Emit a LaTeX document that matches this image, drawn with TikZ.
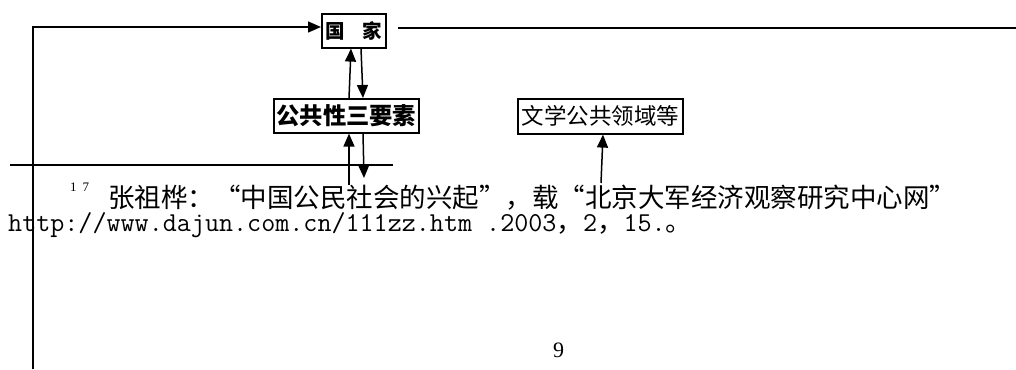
\documentclass[tikz,border=0pt]{standalone}
\usepackage{fontspec}
\usetikzlibrary{arrows.meta}
\newfontfamily\cjk{Noto Sans CJK SC}
\newfontfamily\serf{Liberation Serif}
\newcommand{\cjkp}[1]{\smash{\cjk\fontsize{26.5}{26.5}\selectfont #1}}
\begin{document}
\begin{tikzpicture}[x=1pt,y=-1pt,
  box/.style={draw,line width=1.6pt,inner sep=0pt,anchor=north west},
  conn/.style={line width=1.5pt},
  arr/.style={conn,-{Triangle[length=13pt,width=11pt]}},
  txt/.style={inner sep=0pt,anchor=base west}]
\useasboundingbox (0,0) rectangle (1016,369);
% boxes
\node[box,minimum width=64pt,minimum height=34pt] (gj) at (321,13)
  {\cjk\bfseries\fontsize{19.5}{19.5}\selectfont 国\hspace{0.9em}家};
\node[box,minimum width=145pt,minimum height=34pt] (sg) at (273,98)
  {\cjk\bfseries\fontsize{23.3}{23.3}\selectfont 公共性三要素};
\node[box,minimum width=165pt,minimum height=35pt] (wx) at (517,98)
  {\cjk\fontsize{22.5}{22.5}\selectfont 文学公共领域等};
% coordinates for free ends
\coordinate (lb) at (33,369);
\coordinate (lt) at (33,27);
\coordinate (rs) at (398,28);
\coordinate (re) at (1016,28);
\coordinate (u1) at (349,185);
\coordinate (d1) at (364,178);
\coordinate (w1) at (601,183);
% connectors
\draw[arr] (lb) -- (lt) -- (gj.west |- lt);
\draw[conn] (rs) -- (re);
\draw[arr] (sg.north -| 349,0) -- (gj.south -| 351,0);
\draw[arr] (gj.south -| 361,0) -- (sg.north -| 363,0);
\draw[arr] (u1) -- (sg.south -| 349,0);
\draw[arr] (sg.south -| 363,0) -- (d1);
\draw[arr] (w1) -- (wx.south -| 603,0);
% footnote rule
\coordinate (fl) at (10,165);
\coordinate (fr) at (393,165);
\draw[line width=1.2pt] (fl) -- (fr);
% footnote text
\node[txt] (sup) at (70,191) {\serf\fontsize{13}{13}\selectfont 1\hspace{0.45em}7};
\node[txt] (l1) at (108,207) {\cjk\fontsize{26.5}{26.5}\selectfont 张祖桦：“中国公民社会的兴起”，载“北京大军经济观察研究中心网”};
\node[txt] (l2) at (8,231) {\ttfamily\fontsize{27.3}{27.3}\selectfont http://www.dajun.com.cn/111zz.htm .2003\cjkp{，}2\cjkp{，}15.\cjkp{。}};
\node[txt] (pg) at (553,357) {\serf\fontsize{22}{22}\selectfont 9};
\end{tikzpicture}
\end{document}
